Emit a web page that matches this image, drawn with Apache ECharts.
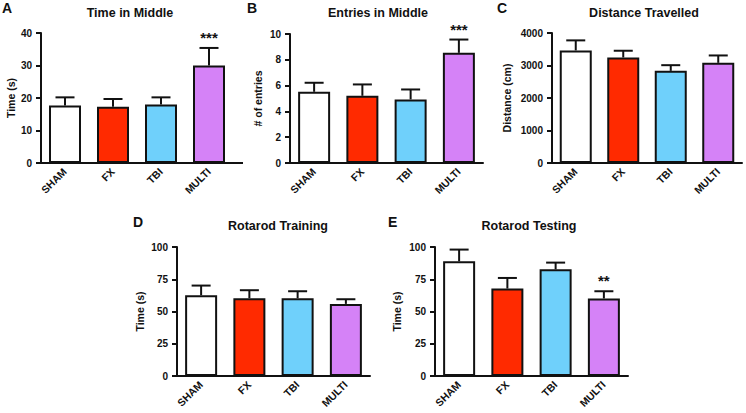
<!DOCTYPE html>
<html><head><meta charset="utf-8">
<script src="https://cdn.jsdelivr.net/npm/echarts@6/dist/echarts.min.js"></script>
<style>html,body{margin:0;padding:0;background:#fff}#c{width:746px;height:413px}</style>
</head><body><div id="c"></div>
<script>
// ---- data ----
const categories = ['SHAM', 'FX', 'TBI', 'MULTI'];

const timeMiddleMean = [17.7, 17.3, 18.0, 30.0];
const timeMiddleSem  = [2.5, 2.4, 2.2, 5.4];
const timeMiddleSig  = ['', '', '', '***'];

const entriesMean = [5.52, 5.21, 4.93, 8.54];
const entriesSem  = [0.70, 0.88, 0.77, 1.03];
const entriesSig  = ['', '', '', '***'];

const distanceMean = [3464, 3247, 2835, 3082];
const distanceSem  = [309, 207, 175, 227];
const distanceSig  = ['', '', '', ''];

const trainingMean = [62.6, 60.3, 60.3, 55.9];
const trainingSem  = [7.5, 6.2, 5.4, 3.6];
const trainingSig  = ['', '', '', ''];

const testingMean = [88.9, 67.8, 82.7, 60.1];
const testingSem  = [9.1, 8.2, 5.2, 5.6];
const testingSig  = ['', '', '', '**'];

const panelTitles  = ['Time in Middle', 'Entries in Middle', 'Distance Travelled', 'Rotarod Training', 'Rotarod Testing'];
const panelLetters = ['A', 'B', 'C', 'D', 'E'];
const yAxisNames   = ['Time (s)', '# of entries', 'Distance (cm)', 'Time (s)', 'Time (s)'];
const yMaxes  = [40, 10, 4000, 100, 100];
const ySteps  = [10, 2, 1000, 25, 25];

const panelData = [
  [timeMiddleMean, timeMiddleSem, timeMiddleSig],
  [entriesMean, entriesSem, entriesSig],
  [distanceMean, distanceSem, distanceSig],
  [trainingMean, trainingSem, trainingSig],
  [testingMean, testingSem, testingSig]
];

// ---- styles / layout ----
const barColors = ['#ffffff', '#ff2a00', '#6fd0fb', '#d582f7'];
const ink = '#111111';
const FONT = '"Liberation Sans", Arial, Helvetica, sans-serif';
const layout = [
  {left: 41,  top: 33,  width: 192, height: 130, nameGap: 24, titleX: 130, titleY: 12.5, letterX: 2,   letterY: 8,   extra: 10},
  {left: 290, top: 34,  width: 193, height: 129, nameGap: 27, titleX: 378, titleY: 12.5, letterX: 247, letterY: 8,   extra: 0},
  {left: 552, top: 33,  width: 190, height: 130, nameGap: 40, titleX: 644, titleY: 12.5, letterX: 497, letterY: 8,   extra: 0},
  {left: 177, top: 247, width: 193, height: 129, nameGap: 32, titleX: 278, titleY: 226,  letterX: 133, letterY: 222, extra: 0},
  {left: 435, top: 247, width: 193, height: 129, nameGap: 33, titleX: 529, titleY: 226,  letterX: 388, letterY: 222, extra: 0}
];

const grids = [], xAxes = [], yAxes = [], series = [], graphics = [];

layout.forEach((L, i) => {
  grids.push({left: L.left, top: L.top, width: L.width, height: L.height, containLabel: false});
  xAxes.push({
    type: 'category', gridIndex: i, data: categories, boundaryGap: true,
    axisLine: {lineStyle: {color: ink, width: 2}},
    axisTick: {alignWithLabel: true, length: 5, lineStyle: {color: ink, width: 2}},
    axisLabel: {rotate: 45, margin: 7, fontFamily: FONT, fontWeight: 'bold', fontSize: 10.5, color: ink},
    splitLine: {show: false}
  });
  yAxes.push({
    type: 'value', gridIndex: i, min: 0, max: yMaxes[i], interval: ySteps[i],
    name: yAxisNames[i], nameLocation: 'middle', nameGap: L.nameGap,
    nameTextStyle: {fontFamily: FONT, fontWeight: 'bold', fontSize: 10.5, color: ink},
    axisLine: {show: true, lineStyle: {color: ink, width: 2}},
    axisTick: {show: true, length: 5, lineStyle: {color: ink, width: 2}},
    axisLabel: {margin: 9, fontFamily: FONT, fontWeight: 'bold', fontSize: 10, color: ink,
      formatter: v => String(v)},
    splitLine: {show: false}
  });
  const [mean, sem, sig] = panelData[i];
  series.push({
    type: 'bar', xAxisIndex: i, yAxisIndex: i, barWidth: 32,
    data: mean.map((v, j) => ({value: v, itemStyle: {color: barColors[j]}})),
    itemStyle: {borderColor: ink, borderWidth: 2},
    emphasis: {disabled: true}, z: 2
  });
  series.push({
    type: 'custom', xAxisIndex: i, yAxisIndex: i, z: 5,
    data: mean.map((v, j) => [j, v, v + sem[j]]),
    renderItem: (params, api) => {
      const lo = api.coord([api.value(0), api.value(1)]);
      const hi = api.coord([api.value(0), api.value(2)]);
      const cap = 9.5;
      const children = [
        {type: 'line', shape: {x1: hi[0], y1: lo[1], x2: hi[0], y2: hi[1]}, style: {stroke: ink, lineWidth: 2}},
        {type: 'line', shape: {x1: hi[0] - cap, y1: hi[1], x2: hi[0] + cap, y2: hi[1]}, style: {stroke: ink, lineWidth: 2}}
      ];
      const s = sig[params.dataIndex];
      if (s) {
        children.push({type: 'text', x: hi[0], y: hi[1] - 3,
          style: {text: s, fill: ink, font: 'bold 15px ' + FONT, textAlign: 'center', textVerticalAlign: 'bottom'}});
      }
      return {type: 'group', children};
    }
  });
  graphics.push({type: 'text', x: L.titleX, y: L.titleY,
    style: {text: panelTitles[i], fill: ink, font: 'bold 12.5px ' + FONT, textAlign: 'center', textVerticalAlign: 'middle'}});
  graphics.push({type: 'text', x: L.letterX, y: L.letterY,
    style: {text: panelLetters[i], fill: ink, font: 'bold 14px ' + FONT, textAlign: 'left', textVerticalAlign: 'middle'}});
  if (L.extra) {
    const yb = L.top + L.height;
    graphics.push({type: 'line', shape: {x1: L.left + L.width - 1, y1: yb, x2: L.left + L.width + L.extra, y2: yb},
      style: {stroke: ink, lineWidth: 2}});
  }
});

const chart = echarts.init(document.getElementById('c'), null, {renderer: 'svg'});
chart.setOption({
  animation: false,
  backgroundColor: '#ffffff',
  grid: grids, xAxis: xAxes, yAxis: yAxes, series: series,
  graphic: graphics
});
</script>
</body></html>
